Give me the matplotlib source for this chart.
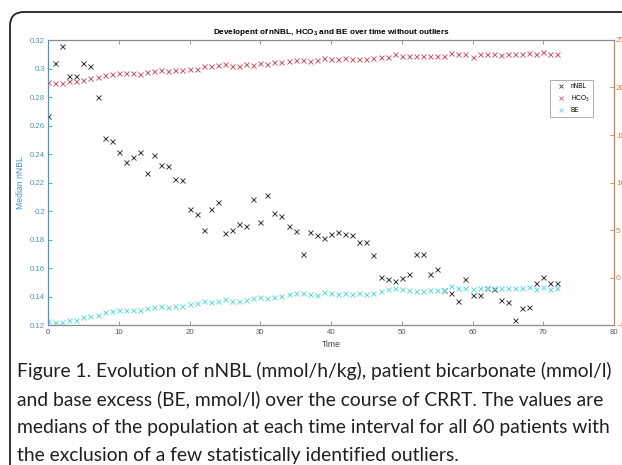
import numpy as np
import matplotlib
matplotlib.use("Agg")
import matplotlib.pyplot as plt
from matplotlib.lines import Line2D
from matplotlib.patches import FancyBboxPatch

plt.rcParams['font.family'] = ['Liberation Sans', 'DejaVu Sans']
plt.rcParams['mathtext.fontset'] = 'custom'
plt.rcParams['mathtext.rm'] = 'Liberation Sans'
plt.rcParams['mathtext.bf'] = 'Liberation Sans:bold'

# medians per time step (0..72)
time = np.arange(0, 73)

nnbl = [0.267, 0.304, 0.316, 0.295, 0.295, 0.304, 0.302, 0.280, 0.251, 0.249,
        0.2416, 0.2344, 0.238, 0.2416, 0.2267, 0.239, 0.2325, 0.2318, 0.2225, 0.2215,
        0.2014, 0.1977, 0.1869, 0.2014, 0.2063, 0.1843, 0.1865, 0.1911, 0.1897, 0.2082,
        0.1921, 0.211, 0.1984, 0.1967, 0.1895, 0.1857, 0.1698, 0.1853, 0.1834, 0.1811,
        0.1836, 0.1853, 0.1839, 0.183, 0.1782, 0.1782, 0.1689, 0.1535, 0.1523, 0.1509,
        0.1532, 0.156, 0.1698, 0.1698, 0.156, 0.1593, 0.1444, 0.1422, 0.1371, 0.1521,
        0.1411, 0.1411, 0.1458, 0.1451, 0.1378, 0.1361, 0.1235, 0.1322, 0.1326, 0.1493,
        0.1537, 0.1493, 0.1493]

hco3 = [20.58, 20.44, 20.5, 20.72, 20.68, 20.82, 20.96, 21.1, 21.35, 21.46,
        21.53, 21.53, 21.53, 21.46, 21.63, 21.74, 21.81, 21.74, 21.81, 21.88,
        21.98, 21.98, 22.26, 22.3, 22.33, 22.44, 22.3, 22.3, 22.44, 22.4,
        22.54, 22.44, 22.68, 22.72, 22.79, 22.86, 22.86, 22.82, 22.86, 23.1,
        22.96, 22.96, 23.1, 22.96, 22.96, 22.96, 23.14, 23.21, 23.25, 23.49,
        23.28, 23.28, 23.28, 23.28, 23.28, 23.28, 23.3, 23.6, 23.49, 23.49,
        23.25, 23.49, 23.49, 23.56, 23.46, 23.49, 23.49, 23.49, 23.63, 23.49,
        23.74, 23.49, 23.49]

be = [-4.61, -4.68, -4.68, -4.44, -4.44, -4.19, -4.09, -3.95, -3.67, -3.56,
      -3.39, -3.46, -3.39, -3.39, -3.21, -3.07, -3.03, -3.07, -3.0, -3.0,
      -2.79, -2.65, -2.47, -2.54, -2.44, -2.26, -2.44, -2.44, -2.33, -2.16,
      -2.05, -2.19, -2.02, -1.95, -1.74, -1.67, -1.67, -1.77, -1.81, -1.56,
      -1.67, -1.77, -1.63, -1.74, -1.67, -1.77, -1.6, -1.39, -1.25, -1.11,
      -1.25, -1.35, -1.42, -1.39, -1.32, -1.32, -1.28, -0.89, -1.07, -1.11,
      -1.25, -1.14, -1.14, -1.11, -1.14, -1.11, -1.11, -1.11, -1.04, -1.21,
      -0.96, -1.21, -1.11]

caption_lines = [
    "Figure 1. Evolution of nNBL (mmol/h/kg), patient bicarbonate (mmol/l)",
    "and base excess (BE, mmol/l) over the course of CRRT. The values are",
    "medians of the population at each time interval for all 60 patients with",
    "the exclusion of a few statistically identified outliers.",
]

c_left = '#4a93c0'
c_right = '#d0804f'
c_nnbl = '#3a3a3a'
c_hco3 = '#c9566a'
c_be = '#5fdcd8'
c_axis = '#8a8a8a'

W, H = 622, 465
fig = plt.figure(figsize=(W / 100, H / 100), dpi=100)

# rounded frame around the figure panel
frame = FancyBboxPatch((10 / 100, -1.0), 8.0, (H - 12) / 100 + 1.0,
                       boxstyle="round,pad=0,rounding_size=0.14",
                       transform=fig.dpi_scale_trans, fill=False,
                       edgecolor='#222222', linewidth=1.3)
fig.patches.append(frame)

ax = fig.add_axes([48 / W, 1 - 325 / H, 566 / W, 285 / H])
ax2 = ax.twinx()

ms, mew = 3.6, 0.7
ax.plot(time, nnbl, 'x', color=c_nnbl, ms=ms, mew=mew)
ax2.plot(time, hco3, 'x', color=c_hco3, ms=ms, mew=mew)
ax2.plot(time, be, 'x', color=c_be, ms=ms, mew=mew)

ax.set_xlim(0, 80)
ax.set_ylim(0.12, 0.32)
ax2.set_ylim(-5, 25)
ax.set_xticks(np.arange(0, 81, 10))
ax.set_yticks(np.arange(0.12, 0.321, 0.02))
ax.set_yticklabels(['0.12', '0.14', '0.16', '0.18', '0.2', '0.22', '0.24',
                    '0.26', '0.28', '0.3', '0.32'])
ax2.set_yticks(np.arange(-5, 26, 5))

fs = 5.6
ax.tick_params(axis='x', direction='in', length=3, width=0.6, colors=c_axis,
               labelcolor='#555555', labelsize=fs, top=True, pad=3)
ax.tick_params(axis='y', direction='in', length=3, width=0.6, colors=c_left,
               labelsize=fs, pad=2)
ax2.tick_params(axis='y', direction='in', length=3, width=0.6, colors=c_right,
                labelsize=6, pad=1.5)

for a in (ax, ax2):
    a.spines['top'].set_color(c_axis)
    a.spines['bottom'].set_color(c_axis)
    a.spines['left'].set_color(c_left)
    a.spines['right'].set_color(c_right)
    for s in a.spines.values():
        s.set_linewidth(0.8)

ax.set_xlabel('Time', fontsize=6.2, color='#444444', labelpad=2.5)
ax.set_ylabel('Median nNBL', fontsize=6.2, color=c_left, labelpad=4)
ax.set_title(r'Developent of nNBL, HCO$_\mathbf{3}$ and BE over time without outliers',
             fontsize=5.9, fontweight='bold', pad=4)

handles = [Line2D([], [], ls='none', marker='x', color=c, ms=3, mew=0.6)
           for c in (c_nnbl, c_hco3, c_be)]
leg = ax2.legend(handles, ['nNBL', r'HCO$_3$', 'BE'], loc='upper left',
                 bbox_to_anchor=(550 / W, 1 - 80 / H), bbox_transform=fig.transFigure,
                 fontsize=4.7, frameon=True, fancybox=False, edgecolor='#999999',
                 handlelength=2.4, handletextpad=0.3, borderpad=0.5,
                 labelspacing=0.5, borderaxespad=0)
leg.get_frame().set_linewidth(0.7)

# caption under the chart
y0, dy = 377, 28
for i, line in enumerate(caption_lines):
    fig.text(17 / W, 1 - (y0 + i * dy) / H, line, family='Lato', fontsize=13.9,
             color='#231f20', va='baseline', ha='left')

fig.savefig('out.png', dpi=100)
